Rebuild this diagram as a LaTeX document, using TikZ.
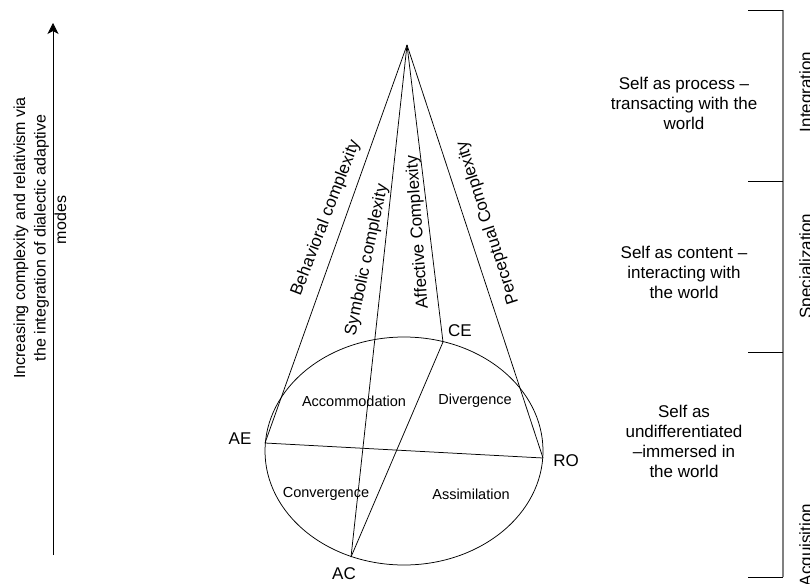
\documentclass[tikz,border=0pt]{standalone}
\usepackage{fontspec}
\setmainfont{Liberation Sans}
\usetikzlibrary{arrows.meta,shapes.geometric}
\begin{document}
\begin{tikzpicture}[x=1pt,y=-1pt,
  edge/.style={draw=black,line width=0.75pt},
  big/.style={font=\fontsize{17}{20}\selectfont,inner sep=0pt},
  small/.style={font=\fontsize{14.5}{17}\selectfont,inner sep=0pt},
  side/.style={font=\fontsize{17}{20}\selectfont,inner sep=0pt,align=center},
  stage/.style={font=\fontsize{17}{20}\selectfont,inner sep=0pt,rotate=90,anchor=north},
  tick/.style={draw=black,line width=0.8pt},
  spine/.style={draw=black!50,line width=1.4pt}]
\useasboundingbox (0,0) rectangle (810,583);

% corner points of the learning cone
\coordinate (apex) at (407,45);
\coordinate (AE) at (265,443);
\coordinate (RO) at (543,458);
\coordinate (CE) at (443,342);
\coordinate (AC) at (351,557);

% base of the cone
\node[draw,ellipse,line width=0.75pt,inner sep=0pt,minimum width=278pt,minimum height=228pt] (base) at (404,451) {};

% cone edges
\draw[edge] (apex) -- (AE);
\draw[edge] (apex) -- (AC);
\draw[edge] (apex) -- (CE);
\draw[edge] (apex) -- (RO);
% dialectic axes
\draw[edge] (AE) -- (RO);
\draw[edge] (CE) -- (AC);

% complexity labels along the edges
\node[big,rotate=69] (lb) at (326,218) {Behavioral complexity};
\node[big,rotate=78] (ls) at (367,260) {Symbolic complexity};
\node[big,rotate=94] (la) at (418,232) {Affective Complexity};
\node[big,rotate=108] (lp) at (488,223) {Perceptual Complexity};

% mode labels
\node[big] (tAE) at (240,439) {AE};
\node[big] (tRO) at (566,461) {RO};
\node[big] (tCE) at (460,331) {CE};
\node[big] (tAC) at (344,574) {AC};

% learning styles
\node[small] (acc) at (354,401) {Accommodation};
\node[small] (div) at (475,401) {Divergence};
\node[small] (con) at (326,494) {Convergence};
\node[small] (ass) at (471,494) {Assimilation};

% development axis
\coordinate (ab) at (53,555);
\coordinate (at) at (53,23);
\draw[edge,-{Stealth[length=11pt,width=11pt,inset=3pt]}] (ab) -- (at);
\node[font=\fontsize{16}{20.5}\selectfont,inner sep=0pt,align=center,rotate=90] (axis) at (40,238)
  {Increasing complexity and relativism via\\the integration of dialectic adaptive\\\hspace*{36pt}modes};

% descriptions of the self
\node[side] (d1) at (684,103) {Self as process –\\transacting with the\\world};
\node[side] (d2) at (684,272) {Self as content –\\interacting with\\the world};
\node[side] (d3) at (684,441) {Self as\\undifferentiated\\–immersed in\\the world};

% stage bracket
\coordinate (s0) at (783,10);
\coordinate (s1) at (783,181);
\coordinate (s2) at (783,352);
\coordinate (s3) at (783,577);
\draw[spine] (s0) -- (s3);
\draw[tick] (s0) -- ++(-35,0);
\draw[tick] (s1) -- ++(-35,0);
\draw[tick] (s2) -- ++(-35,0);
\draw[tick] (s3) -- ++(-35,0);

\node[stage] (g1) at (799,92) {Integration};
\node[stage] (g2) at (799,266) {Specialization};
\node[stage] (g3) at (799,545) {Acquisition};
\end{tikzpicture}
\end{document}
